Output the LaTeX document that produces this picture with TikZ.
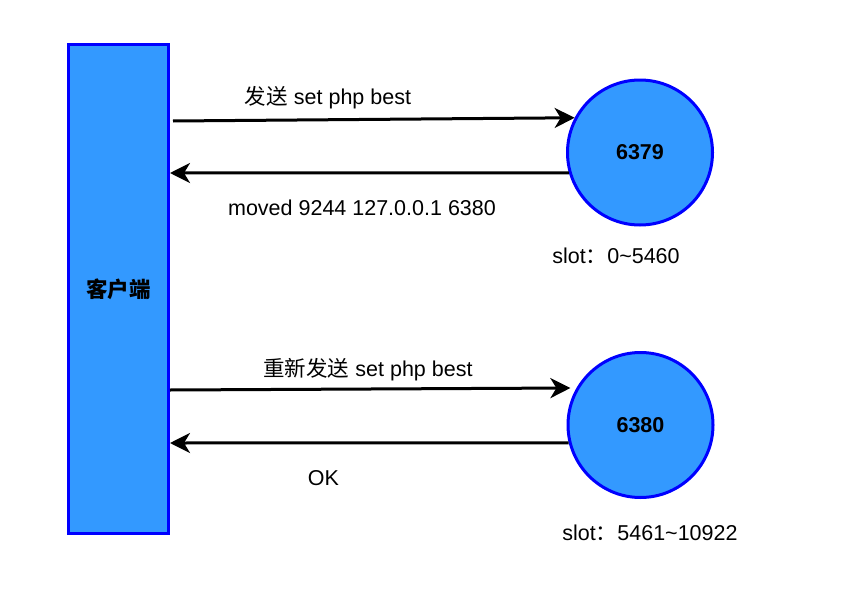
\documentclass[tikz,border=0pt]{standalone}
\usepackage{fontspec}
\setmainfont{Liberation Sans}
\newfontfamily\cjk{Noto Sans CJK SC}
\usetikzlibrary{arrows.meta,calc}
\definecolor{boxfill}{HTML}{3399FF}
\definecolor{boxline}{HTML}{0000FF}
\begin{document}
\begin{tikzpicture}[x=1pt,y=-1pt,
  every node/.style={font=\fontsize{21.5}{26}\selectfont, inner sep=0pt},
  blue box/.style={draw=boxline, fill=boxfill, line width=3pt},
  arr/.style={draw=black, line width=3pt, -{Stealth[length=20pt,width=20pt,inset=6pt]}},
  lbl/.style={text=black}]
\useasboundingbox (0,0) rectangle (868,605);
\node[blue box, rectangle, minimum width=100pt, minimum height=489pt] (client) at (118.5,289) {\cjk\bfseries 客户端};
\node[blue box, circle, minimum size=145pt] (n1) at (640,152.5) {\bfseries 6379};
\node[blue box, circle, minimum size=145pt] (n2) at (640.5,425) {\bfseries 6380};
\coordinate (t3) at ([xshift=-6pt]n2.150);
\draw[arr] ([xshift=3pt]client.east |- 0,121) -- (n1.152);
\draw[arr] (n1.196) -- (client.east |- 0,173);
\draw[arr] (client.east |- 0,390) -- (t3);
\draw[arr] (n2.194) -- (client.east |- 0,443);
\node[lbl] (l1) at (328,98) {{\cjk 发送} set php best};
\node[lbl] (l2) at (362,208) {moved 9244 127.0.0.1 6380};
\node[lbl] (l3) at (616,256) {slot{\cjk ：}0\textasciitilde 5460};
\node[lbl] (l4) at (368,370) {{\cjk 重新发送} set php best};
\node[lbl] (l5) at (323.5,478) {OK};
\node[lbl] (l6) at (650,533) {slot{\cjk ：}5461\textasciitilde 10922};
\end{tikzpicture}
\end{document}
